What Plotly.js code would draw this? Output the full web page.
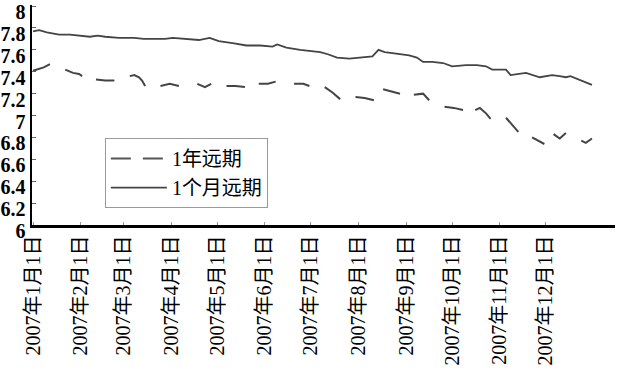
<!DOCTYPE html>
<html>
<head>
<meta charset="utf-8">
<script src="https://cdn.plot.ly/plotly-3.0.1.min.js"></script>
<style>html,body{margin:0;padding:0;background:#fff;}#chart{width:619px;height:370px;}</style>
</head>
<body>
<div id="chart"></div>
<script>
// 1个月远期 (solid)
const oneMonthDates = ['2007-01-01','2007-01-05','2007-01-10','2007-01-14','2007-01-18','2007-01-25','2007-01-31','2007-02-07','2007-02-12','2007-02-17','2007-02-26','2007-03-08','2007-03-14','2007-03-20','2007-03-28','2007-04-02','2007-04-10','2007-04-19','2007-04-26','2007-05-02','2007-05-12','2007-05-20','2007-05-29','2007-06-06','2007-06-09','2007-06-15','2007-06-24','2007-07-02','2007-07-07','2007-07-12','2007-07-18','2007-07-26','2007-08-03','2007-08-10','2007-08-14','2007-08-18','2007-08-23','2007-09-03','2007-09-08','2007-09-12','2007-09-18','2007-09-25','2007-10-01','2007-10-10','2007-10-17','2007-10-23','2007-10-27','2007-11-05','2007-11-08','2007-11-13','2007-11-18','2007-11-27','2007-12-05','2007-12-10','2007-12-14','2007-12-17','2007-12-24','2007-12-31'];
const oneMonthValues = [7.77,7.78,7.76,7.75,7.74,7.74,7.73,7.72,7.73,7.72,7.71,7.71,7.70,7.70,7.70,7.71,7.70,7.69,7.71,7.68,7.66,7.64,7.64,7.63,7.65,7.62,7.60,7.59,7.58,7.56,7.53,7.52,7.53,7.54,7.60,7.58,7.57,7.55,7.53,7.49,7.49,7.48,7.45,7.46,7.46,7.45,7.42,7.42,7.37,7.38,7.39,7.35,7.37,7.36,7.35,7.36,7.32,7.28];

// 1年远期 (broken segments; null = gap in the series)
const oneYearDates = ['2007-01-01','2007-01-05','2007-01-08','2007-01-12','2007-01-17',
  '2007-01-22','2007-01-27','2007-01-31','2007-02-02','2007-02-07',
  '2007-02-11','2007-02-17','2007-02-23','2007-02-28',
  '2007-03-05','2007-03-08','2007-03-11','2007-03-13','2007-03-15','2007-03-20',
  '2007-03-25','2007-03-31','2007-04-06','2007-04-12',
  '2007-04-18','2007-04-23','2007-04-27','2007-05-02',
  '2007-05-07','2007-05-13','2007-05-19','2007-05-24',
  '2007-05-28','2007-06-03','2007-06-08','2007-06-15',
  '2007-06-20','2007-06-26','2007-06-30','2007-07-05',
  '2007-07-10','2007-07-15','2007-07-20','2007-07-25',
  '2007-07-30','2007-08-05','2007-08-11','2007-08-14',
  '2007-08-17','2007-08-22','2007-08-28','2007-09-02',
  '2007-09-06','2007-09-12','2007-09-16','2007-09-21',
  '2007-09-26','2007-10-02','2007-10-08','2007-10-12',
  '2007-10-16','2007-10-19','2007-10-23','2007-10-26','2007-10-31',
  '2007-11-05','2007-11-09','2007-11-13','2007-11-17',
  '2007-11-22','2007-11-26','2007-11-30','2007-12-03',
  '2007-12-06','2007-12-10','2007-12-14','2007-12-20',
  '2007-12-24','2007-12-27','2007-12-31'];
const oneYearValues = [7.41,7.43,7.44,7.47,null,
  7.42,7.39,7.38,7.36,null,
  7.33,7.32,7.32,null,
  7.36,7.37,7.35,7.32,7.27,null,
  7.27,7.29,7.27,null,
  7.29,7.26,7.29,null,
  7.27,7.27,7.26,null,
  7.29,7.29,7.31,null,
  7.29,7.29,7.27,null,
  7.26,7.21,7.15,null,
  7.17,7.16,7.14,null,
  7.24,7.22,7.20,null,
  7.19,7.20,7.14,null,
  7.08,7.07,7.05,null,
  7.05,7.07,7.02,6.97,null,
  6.98,6.91,6.85,null,
  6.80,6.77,6.74,null,
  6.83,6.79,6.84,null,
  6.77,6.75,6.79];

const monthTicks = ['2007-01-01','2007-02-01','2007-03-01','2007-04-01','2007-05-01','2007-06-01','2007-07-01','2007-08-01','2007-09-01','2007-10-01','2007-11-01','2007-12-01'];
const monthLabels = ['2007年1月1日','2007年2月1日','2007年3月1日','2007年4月1日','2007年5月1日','2007年6月1日','2007年7月1日','2007年8月1日','2007年9月1日','2007年10月1日','2007年11月1日','2007年12月1日'];
const yTicks = [6, 6.2, 6.4, 6.6, 6.8, 7, 7.2, 7.4, 7.6, 7.8, 8];
const yLabels = ['6', '6.2', '6.4', '6.6', '6.8', '7', '7.2', '7.4', '7.6', '7.8', '8'];

const serif = '"Liberation Serif", "Noto Sans CJK SC", serif';

const traces = [
  {x: oneYearDates, y: oneYearValues, mode: 'lines', name: '1年远期', showlegend: false,
   connectgaps: false, line: {color: '#444', width: 2}},
  {x: [null], y: [null], mode: 'lines', name: '1年远期',
   line: {color: '#555', width: 2, dash: '20px,12px'}},
  {x: oneMonthDates, y: oneMonthValues, mode: 'lines', name: '1个月远期',
   line: {color: '#444', width: 1.8}}
];

const layout = {
  width: 619, height: 370,
  margin: {l: 32, r: 4, t: 5, b: 145},
  paper_bgcolor: '#fff', plot_bgcolor: '#fff',
  font: {family: serif, color: '#000', size: 19},
  showlegend: true,
  legend: {x: 0.125, y: 0.395, xanchor: 'left', yanchor: 'top',
           bgcolor: 'rgba(255,255,255,0)', bordercolor: '#999', borderwidth: 1,
           itemwidth: 56,
           font: {family: serif, size: 20, color: '#000'}, tracegroupgap: 2},
  xaxis: {type: 'date', range: ['2006-12-31 08:00', '2008-01-15'],
          tickmode: 'array', tickvals: monthTicks, ticktext: monthLabels,
          tickangle: -90, ticks: 'inside', ticklen: 3, tickcolor: '#999',
          showline: true, linecolor: '#000', linewidth: 2.5,
          showgrid: false, zeroline: false,
          tickfont: {family: serif, size: 20, color: '#000'}},
  yaxis: {range: [6, 8.01], tickmode: 'array', tickvals: yTicks, ticktext: yLabels,
          ticks: 'inside', ticklen: 4, tickcolor: '#666',
          ticklabeloverflow: 'allow', ticklabelshift: 6,
          showline: true, linecolor: '#000', linewidth: 2.5,
          showgrid: false, zeroline: false,
          tickfont: {family: serif, size: 20, color: '#000', weight: 'bold'}}
};

Plotly.newPlot('chart', traces, layout, {displayModeBar: false, staticPlot: true});
</script>
</body>
</html>
